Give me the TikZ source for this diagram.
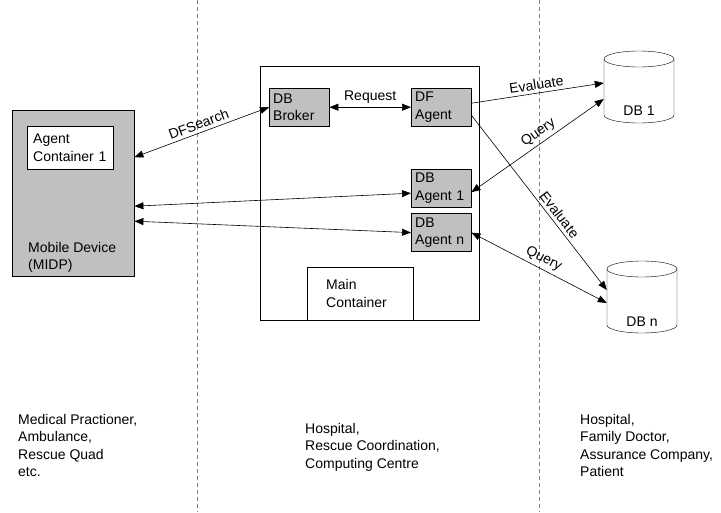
\documentclass[tikz,border=0pt]{standalone}
\usepackage{fontspec}
\setmainfont{Liberation Sans}
\usetikzlibrary{arrows.meta,positioning}

\definecolor{boxgray}{RGB}{192,192,192}

\tikzset
{
  every node/.style={font=\fontsize{14}{17.5}\selectfont},
  graybox/.style={draw,fill=boxgray,align=left,text width=52pt,inner xsep=4pt,
    minimum height=38pt,anchor=north west},
  whitebox/.style={draw,fill=white,align=left},
  dbspot/.style={minimum width=70pt,minimum height=56pt,inner sep=0pt},
  pics/dbdrum/.style={code=%cylinder drawn by hand
  {
    \draw (-35,-28) -- (-35,28) arc[start angle=180,end angle=0,x radius=35,y radius=8] -- (35,-28);
    \draw (0,-28) ellipse[x radius=35,y radius=8];
  }},
  conn/.style={line width=0.6pt,{Triangle[length=9pt,width=7pt]}-{Triangle[length=9pt,width=7pt]}},
  oneway/.style={line width=0.6pt,-{Triangle[length=9pt,width=7pt]}},
  zone/.style={gray,dash pattern=on 4pt off 3pt,line width=0.8pt},
  plain/.style={align=left,anchor=north west,inner sep=0pt}
}

\begin{document}
\begin{tikzpicture}[x=1pt,y=-1pt]
\useasboundingbox (0,0) rectangle (721,512);
% zone borders
\draw[zone] (197,0) -- (197,512);
\draw[zone] (539,0) -- (539,512);

% mobile device
\node[draw,fill=boxgray,minimum width=122pt,minimum height=166pt,anchor=north west,inner sep=0pt]
  (mobile) at (12,110) {};
\node[whitebox,text width=74pt,inner xsep=6pt,minimum height=43pt,anchor=north west]
  (agentcont) at (27,126) {Agent\\Container 1};
\node[plain,anchor=south west] (mobiletxt) at (28,273) {Mobile Device\\(MIDP)};

% main container
\node[draw,minimum width=219pt,minimum height=254pt,anchor=north west,inner sep=0pt]
  (main) at (260,66) {};
\node[graybox] (broker) at (269,88) {DB\\Broker};
\node[graybox] (dfagent) at (411,88) {DF\\Agent};
\node[graybox] (agent1) at (411,169) {DB\\Agent 1};
\node[graybox,below=6pt of agent1.south west,anchor=north west] (agentn) {DB\\Agent n};
\node[whitebox,text width=68pt,inner xsep=19pt,minimum height=53pt,anchor=south west]
  (maincont) at (307,320) {Main\\Container};

% databases
\node[dbspot] (db1) at (639,87) {};
\pic at (db1.center) {dbdrum};
\node (db1txt) at ([yshift=-24pt]db1.center) {DB 1};
\node[dbspot] (dbn) at (642,297) {};
\pic at (dbn.center) {dbdrum};
\node (dbntxt) at ([yshift=-25pt]dbn.center) {DB n};

% connectors
\draw[conn] ([yshift=36pt]mobile.east) -- node[above,sloped] {DFSearch} (broker.west);
\draw[conn] ([yshift=-13pt]mobile.east) -- ([yshift=-5pt]agent1.west);
\draw[conn] ([yshift=-28pt]mobile.east) -- (agentn.west);
\draw[conn] (broker.east) -- node[above] {Request} (dfagent.west);
\draw[oneway] ([yshift=4pt]dfagent.east) -- node[above,sloped] {Evaluate} ([yshift=4pt]db1.west);
\draw[conn] ([yshift=-12pt]db1.west) -- node[above,sloped,pos=0.45] {Query} ([yshift=-4pt]agent1.east);
\draw[oneway] ([yshift=-8pt]dfagent.east) -- node[above,sloped,pos=0.6] {Evaluate} ([yshift=7pt]dbn.west);
\draw[conn] (agentn.east) -- node[above,sloped] {Query} ([yshift=-6pt]dbn.west);

% locations
\node[plain] (loc1) at (18,414) {Medical Practioner,\\Ambulance,\\Rescue Quad\\etc.};
\node[plain] (loc2) at (305,423) {Hospital,\\Rescue Coordination,\\Computing Centre};
\node[plain] (loc3) at (580,414) {Hospital,\\Family Doctor,\\Assurance Company,\\Patient};
\end{tikzpicture}
\end{document}
